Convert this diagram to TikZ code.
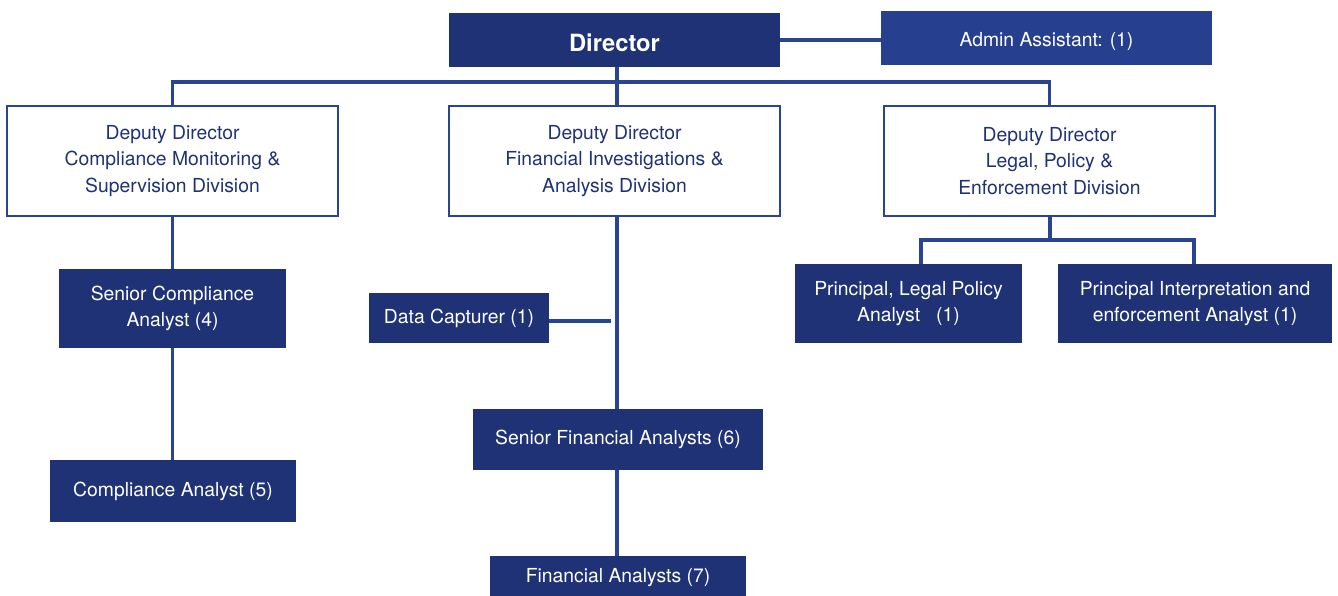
\documentclass[tikz,border=0pt]{standalone}
\usepackage{fontspec}
\setmainfont{TeX Gyre Heros}
\usetikzlibrary{positioning}
\definecolor{navy}{RGB}{31,50,118}
\definecolor{navylight}{RGB}{38,63,142}
\definecolor{linkblue}{RGB}{42,68,148}
\tikzset{
  post/.style={fill=navy,text=white,align=center,inner sep=0pt,
    font=\fontsize{11}{15}\selectfont},
  head/.style={draw=linkblue,line width=1.2pt,fill=white,text=navy,align=center,
    inner sep=0pt,minimum width=66.2mm,minimum height=22mm,
    font=\fontsize{11}{15}\selectfont},
  link/.style={draw=linkblue,line width=1.9pt}
}
\begin{document}
\begin{tikzpicture}[x=0.2mm,y=-0.2mm]
\useasboundingbox (0,0) rectangle (1338,596);
% top of the tree
\node[post,minimum width=66.2mm,minimum height=10.8mm,text height=4.6mm,text depth=0pt,
  font=\fontsize{13.5}{16}\selectfont\bfseries] (dir) at (614.5,40) {Director};
\node[post,fill=navylight,minimum width=66.2mm,minimum height=10.8mm,text height=3.6mm,
  text depth=0pt] (admin) at (1046.5,38) {Admin Assistant: (1)};
% the three divisions
\node[head] (dd1) at (172.5,161) {Deputy Director\\Compliance Monitoring \&\\Supervision Division};
\node[head] (dd2) at (614.5,161) {Deputy Director\\Financial Investigations \&\\Analysis Division};
\node[head] (dd3) at (1049.5,161) {Deputy Director\\Legal, Policy \&\\Enforcement Division};
% compliance
\node[post,minimum width=45.4mm,minimum height=15.8mm] (sca) at (172.5,308.5) {Senior Compliance\\Analyst (4)};
\node[post,minimum width=49.2mm,minimum height=12.4mm] (ca) at (173,491) {Compliance Analyst (5)};
% investigations
\node[post,minimum width=36mm,minimum height=10mm] (dc) at (459,318) {Data Capturer (1)};
\node[post,minimum width=58mm,minimum height=12.2mm] (sfa) at (618,439.5) {Senior Financial Analysts (6)};
\node[post,minimum width=51.2mm,minimum height=8.8mm] (fa) at (618,578) {Financial Analysts (7)};
% legal
\node[post,minimum width=45.4mm,minimum height=15.8mm] (plp) at (908.5,303.5) {Principal, Legal Policy\\Analyst\ \ \ (1)};
\node[post,minimum width=54.8mm,minimum height=15.8mm] (pie) at (1195,303.5) {Principal Interpretation and\\enforcement Analyst (1)};
% connectors
\coordinate (bus) at (617,82);
\coordinate (dcend) at (611,321);
\coordinate (lbus) at (1050,240);
\draw[link] (dir.east |- 0,40) -- (admin.west |- 0,40);
\draw[link] (dir.south -| bus) -- (bus);
\draw[link] (dd1.north) |- (bus) -| (dd3.north);
\draw[link] (bus) -- (dd2.north -| bus);
\draw[link] (dd1.south) -- (sca.north);
\draw[link] (sca.south) -- (ca.north -| sca.south);
\draw[link] (dd2.south -| bus) -- (sfa.north -| bus);
\draw[link] (dc.east |- dcend) -- (dcend);
\draw[link] (sfa.south -| bus) -- (fa.north -| bus);
\draw[link] (dd3.south -| lbus) -- (lbus);
\draw[link] (plp.north -| 921,0) |- (lbus) -| (pie.north -| 1194,0);
\end{tikzpicture}
\end{document}
